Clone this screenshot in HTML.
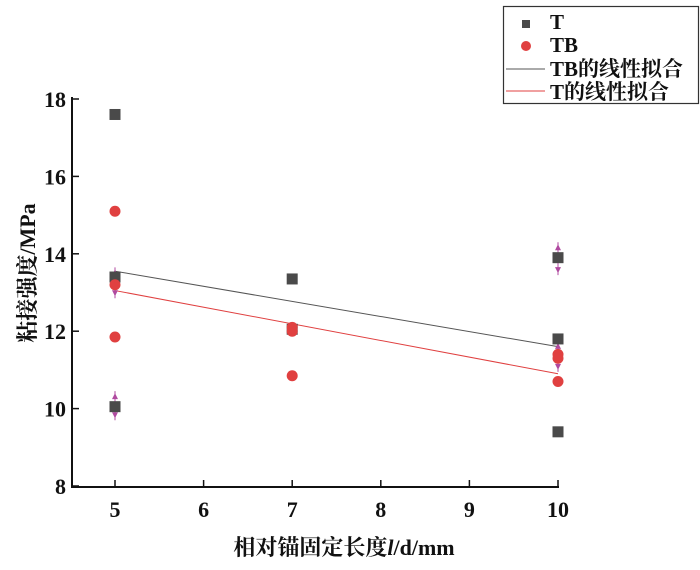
<!DOCTYPE html>
<html><head><meta charset="utf-8"><style>
body{margin:0;background:#fff;}
svg text{font-family:"Liberation Serif","Noto Serif CJK SC",serif;fill:#111;font-weight:bold;}
</style></head><body>
<svg id="chart" width="700" height="565" viewBox="0 0 700 565">
<g id="axes"></g>
<g id="fits"></g>
<g id="errs"></g>
<g id="pts"></g>
<text x="344" y="555" text-anchor="middle" font-size="22">相对锚固定长度<tspan font-style="italic">l</tspan>/d/mm</text>
<text transform="translate(35,273) rotate(-90)" text-anchor="middle" font-size="22">粘接强度/MPa</text>
<g>
<rect x="503.5" y="6.5" width="195" height="97" fill="#fff" stroke="#333" stroke-width="1.2"/>
<rect x="522" y="20" width="8" height="8" fill="#4a4a4a"/>
<text x="550" y="29" font-size="21">T</text>
<circle cx="526" cy="46" r="5" fill="#e04040"/>
<text x="550" y="52" font-size="21">TB</text>
<line x1="506" y1="69" x2="545" y2="69" stroke="#555" stroke-width="1"/>
<text x="550" y="76" font-size="21">TB的线性拟合</text>
<line x1="506" y1="91" x2="545" y2="91" stroke="#e04040" stroke-width="1"/>
<text x="550" y="99" font-size="21">T的线性拟合</text>
</g>
</svg>
<script>
const xTicks=[5,6,7,8,9,10];
const yTicks=[8,10,12,14,16,18];
const tX=[5,5,5,7,7,10,10,10];
const tY=[17.6,13.4,10.05,13.35,12.05,13.9,11.8,9.4];
const tbX=[5,5,5,7,7,7,10,10,10];
const tbY=[15.1,13.2,11.85,12.1,12.0,10.85,11.4,11.3,10.7];
const errX=[5,5,10,10];
const errLo=[12.85,9.7,13.45,10.95];
const errHi=[13.65,10.45,14.3,11.75];
const fitTB=[13.55,11.6];
const fitT=[13.05,10.9];
const fitX=[5,10];
const X=v=>115+(v-5)*88.6;
const Y=v=>486-(v-8)*38.7;
const NS='http://www.w3.org/2000/svg';
function mk(p,tag,at){const e=document.createElementNS(NS,tag);for(const k in at)e.setAttribute(k,at[k]);p.appendChild(e);return e;}
const ax=document.getElementById('axes');
let e=mk(ax,'line',{x1:72,y1:Y(18)-2,x2:72,y2:487,stroke:'#111','stroke-width':2});


e=mk(ax,'line',{x1:71,y1:487,x2:X(10)+1,y2:487,stroke:'#111','stroke-width':2});


yTicks.forEach(v=>{
 let t=mk(ax,'line',{x1:72,y1:Y(v),x2:79,y2:Y(v),stroke:'#111','stroke-width':1.5});
 
 
 let l=mk(ax,'text',{x:66,y:Y(v)+8,'text-anchor':'end','font-size':22});
 l.textContent=v;
 
 
});
xTicks.forEach(v=>{
 let t=mk(ax,'line',{x1:X(v),y1:487,x2:X(v),y2:480,stroke:'#111','stroke-width':1.5});
 
 
 let l=mk(ax,'text',{x:X(v),y:517,'text-anchor':'middle','font-size':22});
 l.textContent=v;
 
 
});
const fg=document.getElementById('fits');
e=mk(fg,'line',{x1:X(fitX[0]),y1:Y(fitTB[0]),x2:X(fitX[1]),y2:Y(fitTB[1]),stroke:'#555','stroke-width':1});


e=mk(fg,'line',{x1:X(fitX[0]),y1:Y(fitT[0]),x2:X(fitX[1]),y2:Y(fitT[1]),stroke:'#e04040','stroke-width':1});


const pg=document.getElementById('pts');
tX.forEach((x,i)=>{
 let r=mk(pg,'rect',{x:X(x)-5.5,y:Y(tY[i])-5.5,width:11,height:11,fill:'#4a4a4a'});
 
 
});
tbX.forEach((x,i)=>{
 let c=mk(pg,'circle',{cx:X(x),cy:Y(tbY[i]),r:5.5,fill:'#e04040'});
 
 
});
const eg=document.getElementById('errs');
errX.forEach((x,i)=>{
 const cx=X(x),y1=Y(errHi[i]),y2=Y(errLo[i]);
 let l=mk(eg,'line',{x1:cx,y1:y1,x2:cx,y2:y2,stroke:'#b04aa0','stroke-width':1});
 
 
 let a=mk(eg,'polygon',{points:`${cx-3},${y1+8} ${cx+3},${y1+8} ${cx},${y1+2}`,fill:'#b04aa0'});
 
 
 let b=mk(eg,'polygon',{points:`${cx-3},${y2-8} ${cx+3},${y2-8} ${cx},${y2-2}`,fill:'#b04aa0'});
 
 
});
</script>
</body></html>
